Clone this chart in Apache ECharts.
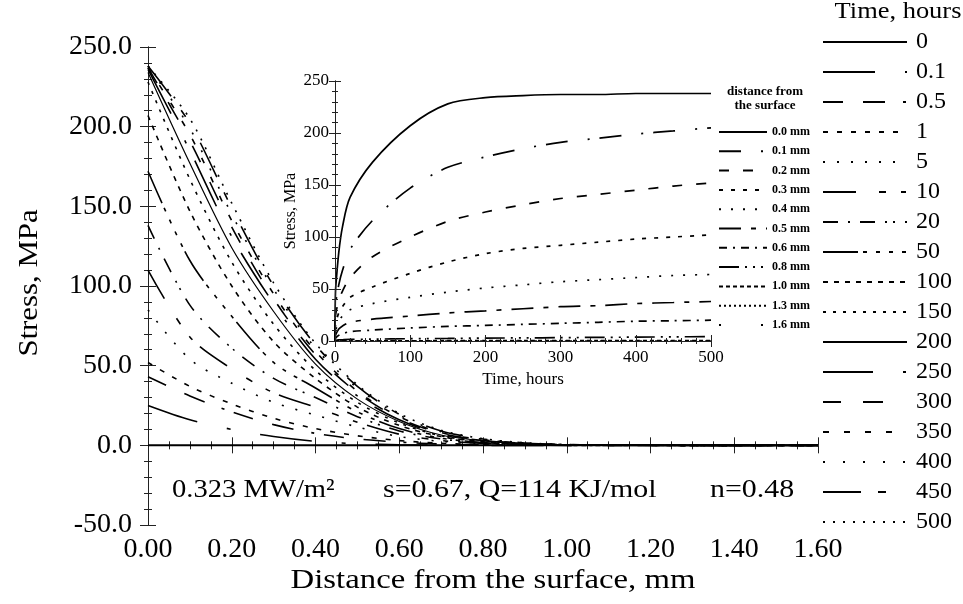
<!DOCTYPE html>
<html><head><meta charset="utf-8">
<script src="https://cdn.jsdelivr.net/npm/echarts@6/dist/echarts.min.js"></script>
<style>html,body{margin:0;padding:0;background:#fff}#c{width:963px;height:604px}</style>
</head><body><div id="c"></div>
<script>
// ---- data ----
const distances = [0, 0.1, 0.2, 0.3, 0.4, 0.5, 0.6, 0.7, 0.8, 0.9, 1.0, 1.3, 1.6];
const timeLabels = ['0', '0.1', '0.5', '1', '5', '10', '20', '50', '100', '150', '200', '250', '300', '350', '400', '450', '500'];
const times = [0, 0.1, 0.5, 1, 5, 10, 20, 50, 100, 150, 200, 250, 300, 350, 400, 450, 500];
const stress_t0   = [0, 0, 0, 0, 0, 0, 0, 0, 0, 0, 0, 0, 0];
const stress_t0_1 = [25, 16, 10, 5.5, 2.5, 1, 0.4, 0.1, 0, 0, 0, 0, 0];
const stress_t0_5 = [43, 31, 21, 13, 7.5, 4, 2, 0.8, 0.3, 0.1, 0, 0, 0];
const stress_t1   = [52, 37, 26, 17, 10.5, 6, 3, 1.3, 0.5, 0.2, 0, 0, 0];
const stress_t5   = [85, 54, 39, 27, 19, 11.5, 5.5, 2.5, 1, 0.4, 0.1, 0, 0];
const stress_t10  = [110, 68, 48, 33, 24, 14.5, 7, 3, 1.2, 0.5, 0.1, 0, 0];
const stress_t20  = [138, 88, 61, 42, 30, 18, 9, 4, 1.5, 0.6, 0.2, 0, 0];
const stress_t50  = [172, 116, 81, 52, 36, 21, 10.5, 4.5, 1.8, 0.7, 0.2, 0, 0];
const stress_t100 = [207, 147, 100, 65, 42, 24, 12.5, 5.5, 2.2, 0.8, 0.2, 0, 0];
const stress_t150 = [228, 167, 115, 76, 47, 27, 14, 6, 2.5, 0.9, 0.3, 0, 0];
const stress_t200 = [234, 177, 124, 84, 51, 29, 15, 6.5, 2.8, 1, 0.3, 0, 0];
const stress_t250 = [236, 185, 131, 89, 54, 31, 16, 7, 3, 1.1, 0.3, 0, 0];
const stress_t300 = [237, 191, 137, 92, 57, 33, 17, 7.5, 3.2, 1.2, 0.4, 0, 0];
const stress_t350 = [237, 195, 141, 95, 59, 34, 18, 8, 3.5, 1.3, 0.4, 0, 0];
const stress_t400 = [238, 199, 145, 98, 61, 36, 19, 8.5, 3.7, 1.4, 0.5, 0, 0];
const stress_t450 = [238, 202, 149, 100, 63, 37, 19.5, 9, 4, 1.5, 0.5, 0, 0];
const stress_t500 = [238, 205, 152, 102, 64, 38, 20, 9.5, 4.2, 1.6, 0.5, 0, 0];
const stressByTime = [stress_t0, stress_t0_1, stress_t0_5, stress_t1, stress_t5, stress_t10, stress_t20, stress_t50,
  stress_t100, stress_t150, stress_t200, stress_t250, stress_t300, stress_t350, stress_t400, stress_t450, stress_t500];
const insetLabels = ['0.0 mm', '0.1 mm', '0.2 mm', '0.3 mm', '0.4 mm', '0.5 mm', '0.6 mm', '0.8 mm', '1.0 mm', '1.3 mm', '1.6 mm'];
const insetDistanceIndex = [0, 1, 2, 3, 4, 5, 6, 8, 10, 11, 12];

// ---- styles ----
const FONT = '"Liberation Serif", "Times New Roman", serif';
const mainDash = [
  'solid', [52, 30, 4, 30], [20, 20, 22, 18, 3, 10], [5, 9], [2, 12], [33, 23, 7, 15, 5, 10],
  [15, 10, 2, 10, 15, 10, 2, 6, 2, 10], [35, 5, 4, 9, 4, 9, 4, 9, 4, 5], [5, 6], [3, 7], 'solid',
  [50, 30, 3, 20], [18, 22, 20, 30], [6, 15], [2, 18], [38, 17, 8, 30], [2, 8]
];
const insetDash = [
  'solid', [22, 20, 2, 10], [10, 14], [4, 8], [2, 10], [22, 10, 5, 10], [8, 6, 2, 6],
  [20, 6, 2, 6, 2, 6, 2, 6], [4, 3], [2, 3], [2, 40]
];

const series = [];
timeLabels.forEach((lab, i) => {
  series.push({
    name: lab, type: 'line', xAxisIndex: 0, yAxisIndex: 0, symbol: 'none', smooth: 0.3,
    data: distances.map((d, j) => [d, stressByTime[i][j]]),
    itemStyle: { color: '#000' },
    lineStyle: { color: '#000', width: i === 0 ? 2 : (i === 10 ? 1.2 : 1.6), type: mainDash[i] },
    z: 3
  });
});
insetLabels.forEach((lab, k) => {
  const j = insetDistanceIndex[k];
  series.push({
    name: lab, type: 'line', xAxisIndex: 2, yAxisIndex: 2, symbol: 'none', smooth: 0.3,
    data: times.map((t, i) => [t, stressByTime[i][j]]),
    itemStyle: { color: '#000' },
    lineStyle: { color: '#000', width: 1.7, type: insetDash[k] },
    z: 4
  });
});

const axisLineS = { show: true, lineStyle: { color: '#222', width: 1 } };
const tickS = { show: true, inside: true, length: 8, lineStyle: { color: '#222' } };
const minorS = (n) => ({ show: true, splitNumber: n, length: 4, lineStyle: { color: '#222' } });
const insetTick = { show: true, inside: true, length: 6, lineStyle: { color: '#222' } };
const insetMinor = { show: true, splitNumber: 5, length: 3, lineStyle: { color: '#222' } };

const option = {
  backgroundColor: '#fff',
  animation: false,
  grid: [
    { left: 148, top: 47, width: 670, height: 478, show: false },
    { left: 335, top: 81, width: 376, height: 260, show: false }
  ],
  xAxis: [
    { gridIndex: 0, type: 'value', min: 0, max: 1.6, interval: 0.2, position: 'bottom',
      axisLine: axisLineS, axisTick: tickS, minorTick: minorS(4), splitLine: { show: false },
      axisLabel: { fontFamily: FONT, fontSize: 28, color: '#000', margin: 11, formatter: v => v.toFixed(2) } },
    { gridIndex: 0, type: 'value', min: 0, max: 1.6, interval: 0.2, position: 'top',
      axisLine: axisLineS, axisTick: tickS, minorTick: minorS(4), splitLine: { show: false }, axisLabel: { show: false } },
    { gridIndex: 1, type: 'value', min: 0, max: 500, interval: 100, position: 'bottom', z: 5,
      axisLine: axisLineS, axisTick: insetTick, minorTick: insetMinor, splitLine: { show: false },
      axisLabel: { fontFamily: FONT, fontSize: 17, color: '#000', margin: 8 },
      name: 'Time, hours', nameLocation: 'middle', nameGap: 30,
      nameTextStyle: { fontFamily: FONT, fontSize: 17, color: '#000' } },
    { gridIndex: 1, type: 'value', min: 0, max: 500, interval: 100, position: 'top', z: 5,
      axisLine: axisLineS, axisTick: insetTick, minorTick: insetMinor, splitLine: { show: false }, axisLabel: { show: false } }
  ],
  yAxis: [
    { gridIndex: 0, type: 'value', min: -50, max: 250, interval: 50, position: 'left',
      axisLine: axisLineS, axisTick: tickS, minorTick: minorS(5), splitLine: { show: false },
      axisLabel: { fontFamily: FONT, fontSize: 28, color: '#000', margin: 16, formatter: v => v.toFixed(1) } },
    { gridIndex: 0, type: 'value', min: -50, max: 250, interval: 50, position: 'right',
      axisLine: axisLineS, axisTick: tickS, minorTick: minorS(5), splitLine: { show: false }, axisLabel: { show: false } },
    { gridIndex: 1, type: 'value', min: 0, max: 250, interval: 50, position: 'left', z: 5,
      axisLine: axisLineS, axisTick: insetTick, minorTick: insetMinor, splitLine: { show: false },
      axisLabel: { fontFamily: FONT, fontSize: 17, color: '#000', margin: 6 },
      name: 'Stress, MPa', nameLocation: 'middle', nameGap: 36,
      nameTextStyle: { fontFamily: FONT, fontSize: 16, color: '#000' } },
    { gridIndex: 1, type: 'value', min: 0, max: 250, interval: 50, position: 'right', z: 5,
      axisLine: axisLineS, axisTick: insetTick, minorTick: insetMinor, splitLine: { show: false }, axisLabel: { show: false } }
  ],
  legend: [
    { data: timeLabels, orient: 'vertical', left: 822, top: 30, padding: 0, itemWidth: 84, itemHeight: 14, itemGap: 6,
      selectedMode: false, itemStyle: { opacity: 0 },
      textStyle: { fontFamily: FONT, fontSize: 24, color: '#000', lineHeight: 24, padding: [0, 0, 0, 4] } },
    { data: insetLabels, orient: 'vertical', left: 718, top: 126, padding: 0, itemWidth: 48, itemHeight: 12, itemGap: 7.3,
      selectedMode: false, itemStyle: { opacity: 0 },
      textStyle: { fontFamily: FONT, fontSize: 12, fontWeight: 'bold', color: '#000', lineHeight: 12 } }
  ],
  graphic: [
    { type: 'text', x: 898, y: 12, scaleX: 1.15, style: { text: 'Time, hours', font: '23px ' + FONT, fill: '#000', align: 'center', verticalAlign: 'middle' } },
    { type: 'text', x: 765, y: 99, style: { text: 'distance from\nthe surface', font: 'bold 13px ' + FONT, fill: '#000', align: 'center', verticalAlign: 'middle', lineHeight: 14 } },
    { type: 'text', x: 172, y: 490, scaleX: 1.1, style: { text: '0.323 MW/m²', font: '26px ' + FONT, fill: '#000', verticalAlign: 'middle' } },
    { type: 'text', x: 383, y: 490, scaleX: 1.15, style: { text: 's=0.67, Q=114 KJ/mol', font: '26px ' + FONT, fill: '#000', verticalAlign: 'middle' } },
    { type: 'text', x: 710, y: 490, scaleX: 1.15, style: { text: 'n=0.48', font: '26px ' + FONT, fill: '#000', verticalAlign: 'middle' } },
    { type: 'text', x: 493, y: 581, scaleX: 1.17, style: { text: 'Distance from the surface, mm', font: '28px ' + FONT, fill: '#000', align: 'center', verticalAlign: 'middle' } },
    { type: 'text', x: 30, y: 283, rotation: Math.PI / 2, scaleX: 1.1, style: { text: 'Stress, MPa', font: '28px ' + FONT, fill: '#000', align: 'center', verticalAlign: 'middle' } }
  ],
  series: series
};
const chart = echarts.init(document.getElementById('c'));
chart.setOption(option);
</script></body></html>
